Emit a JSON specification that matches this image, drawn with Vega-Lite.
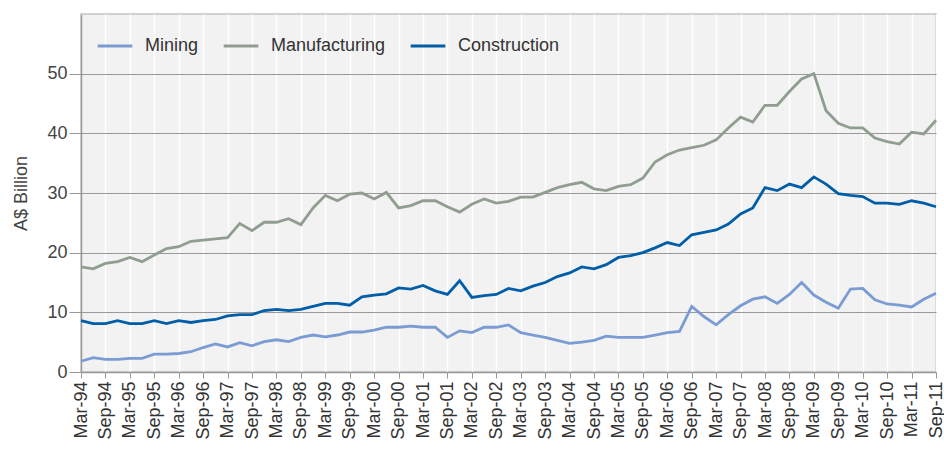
{
  "$schema": "https://vega.github.io/schema/vega-lite/v6.json",
  "width": 855,
  "height": 358,
  "autosize": {"type": "none"},
  "padding": {"left": 81, "top": 14, "right": 8, "bottom": 78},
  "background": "white",
  "config": {
    "font": "Liberation Sans",
    "view": {"fill": "#f2f2f2", "stroke": "#c4c4c4", "strokeWidth": 1.5}
  },
  "data": {"values": [
    {"q":"Mar-94","Mining":1.8,"Manufacturing":17.6,"Construction":8.6},
    {"q":"Jun-94","Mining":2.4,"Manufacturing":17.3,"Construction":8.1},
    {"q":"Sep-94","Mining":2.1,"Manufacturing":18.2,"Construction":8.1},
    {"q":"Dec-94","Mining":2.1,"Manufacturing":18.5,"Construction":8.6},
    {"q":"Mar-95","Mining":2.3,"Manufacturing":19.2,"Construction":8.1},
    {"q":"Jun-95","Mining":2.3,"Manufacturing":18.5,"Construction":8.1},
    {"q":"Sep-95","Mining":3.0,"Manufacturing":19.6,"Construction":8.6},
    {"q":"Dec-95","Mining":3.0,"Manufacturing":20.7,"Construction":8.1},
    {"q":"Mar-96","Mining":3.1,"Manufacturing":21.0,"Construction":8.6},
    {"q":"Jun-96","Mining":3.4,"Manufacturing":21.9,"Construction":8.3},
    {"q":"Sep-96","Mining":4.1,"Manufacturing":22.1,"Construction":8.6},
    {"q":"Dec-96","Mining":4.7,"Manufacturing":22.3,"Construction":8.8},
    {"q":"Mar-97","Mining":4.2,"Manufacturing":22.5,"Construction":9.4},
    {"q":"Jun-97","Mining":4.9,"Manufacturing":24.9,"Construction":9.6},
    {"q":"Sep-97","Mining":4.4,"Manufacturing":23.7,"Construction":9.6},
    {"q":"Dec-97","Mining":5.1,"Manufacturing":25.1,"Construction":10.3},
    {"q":"Mar-98","Mining":5.4,"Manufacturing":25.1,"Construction":10.5},
    {"q":"Jun-98","Mining":5.1,"Manufacturing":25.7,"Construction":10.3},
    {"q":"Sep-98","Mining":5.8,"Manufacturing":24.7,"Construction":10.5},
    {"q":"Dec-98","Mining":6.2,"Manufacturing":27.5,"Construction":11.0},
    {"q":"Mar-99","Mining":5.9,"Manufacturing":29.6,"Construction":11.5},
    {"q":"Jun-99","Mining":6.2,"Manufacturing":28.7,"Construction":11.5},
    {"q":"Sep-99","Mining":6.7,"Manufacturing":29.8,"Construction":11.2},
    {"q":"Dec-99","Mining":6.7,"Manufacturing":30.0,"Construction":12.6},
    {"q":"Mar-00","Mining":7.0,"Manufacturing":29.0,"Construction":12.9},
    {"q":"Jun-00","Mining":7.5,"Manufacturing":30.1,"Construction":13.1},
    {"q":"Sep-00","Mining":7.5,"Manufacturing":27.5,"Construction":14.1},
    {"q":"Dec-00","Mining":7.7,"Manufacturing":27.9,"Construction":13.9},
    {"q":"Mar-01","Mining":7.5,"Manufacturing":28.7,"Construction":14.5},
    {"q":"Jun-01","Mining":7.5,"Manufacturing":28.7,"Construction":13.6},
    {"q":"Sep-01","Mining":5.8,"Manufacturing":27.7,"Construction":13.0},
    {"q":"Dec-01","Mining":6.9,"Manufacturing":26.8,"Construction":15.3},
    {"q":"Mar-02","Mining":6.6,"Manufacturing":28.1,"Construction":12.5},
    {"q":"Jun-02","Mining":7.5,"Manufacturing":29.0,"Construction":12.8},
    {"q":"Sep-02","Mining":7.5,"Manufacturing":28.3,"Construction":13.0},
    {"q":"Dec-02","Mining":7.9,"Manufacturing":28.6,"Construction":14.0},
    {"q":"Mar-03","Mining":6.6,"Manufacturing":29.3,"Construction":13.6},
    {"q":"Jun-03","Mining":6.2,"Manufacturing":29.3,"Construction":14.4},
    {"q":"Sep-03","Mining":5.8,"Manufacturing":30.1,"Construction":15.0},
    {"q":"Dec-03","Mining":5.3,"Manufacturing":30.9,"Construction":16.0},
    {"q":"Mar-04","Mining":4.8,"Manufacturing":31.4,"Construction":16.6},
    {"q":"Jun-04","Mining":5.0,"Manufacturing":31.8,"Construction":17.6},
    {"q":"Sep-04","Mining":5.3,"Manufacturing":30.7,"Construction":17.3},
    {"q":"Dec-04","Mining":6.0,"Manufacturing":30.4,"Construction":18.0},
    {"q":"Mar-05","Mining":5.8,"Manufacturing":31.1,"Construction":19.2},
    {"q":"Jun-05","Mining":5.8,"Manufacturing":31.4,"Construction":19.5},
    {"q":"Sep-05","Mining":5.8,"Manufacturing":32.5,"Construction":20.0},
    {"q":"Dec-05","Mining":6.2,"Manufacturing":35.2,"Construction":20.8},
    {"q":"Mar-06","Mining":6.6,"Manufacturing":36.4,"Construction":21.7},
    {"q":"Jun-06","Mining":6.8,"Manufacturing":37.2,"Construction":21.2},
    {"q":"Sep-06","Mining":11.0,"Manufacturing":37.6,"Construction":23.0},
    {"q":"Dec-06","Mining":9.3,"Manufacturing":38.0,"Construction":23.4},
    {"q":"Mar-07","Mining":7.9,"Manufacturing":38.9,"Construction":23.8},
    {"q":"Jun-07","Mining":9.6,"Manufacturing":40.9,"Construction":24.8},
    {"q":"Sep-07","Mining":11.1,"Manufacturing":42.7,"Construction":26.5},
    {"q":"Dec-07","Mining":12.2,"Manufacturing":41.9,"Construction":27.5},
    {"q":"Mar-08","Mining":12.6,"Manufacturing":44.7,"Construction":30.9},
    {"q":"Jun-08","Mining":11.5,"Manufacturing":44.7,"Construction":30.4},
    {"q":"Sep-08","Mining":13.0,"Manufacturing":47.0,"Construction":31.5},
    {"q":"Dec-08","Mining":15.0,"Manufacturing":49.1,"Construction":30.9},
    {"q":"Mar-09","Mining":12.9,"Manufacturing":50.0,"Construction":32.7},
    {"q":"Jun-09","Mining":11.7,"Manufacturing":43.8,"Construction":31.5},
    {"q":"Sep-09","Mining":10.7,"Manufacturing":41.7,"Construction":29.9},
    {"q":"Dec-09","Mining":13.9,"Manufacturing":40.9,"Construction":29.6},
    {"q":"Mar-10","Mining":14.0,"Manufacturing":40.9,"Construction":29.4},
    {"q":"Jun-10","Mining":12.1,"Manufacturing":39.2,"Construction":28.3},
    {"q":"Sep-10","Mining":11.4,"Manufacturing":38.6,"Construction":28.3},
    {"q":"Dec-10","Mining":11.2,"Manufacturing":38.2,"Construction":28.1},
    {"q":"Mar-11","Mining":10.9,"Manufacturing":40.2,"Construction":28.7},
    {"q":"Jun-11","Mining":12.2,"Manufacturing":39.9,"Construction":28.3},
    {"q":"Sep-11","Mining":13.2,"Manufacturing":42.2,"Construction":27.7}
  ]},
  "transform": [
    {"fold": ["Mining", "Manufacturing", "Construction"], "as": ["series", "value"]}
  ],
  "mark": {"type": "line", "strokeWidth": 2.8, "strokeJoin": "miter"},
  "encoding": {
    "x": {
      "field": "q", "type": "nominal", "sort": null,
      "scale": {"type": "point", "padding": 0},
      "axis": {
        "title": null,
        "values": ["Mar-94","Sep-94","Mar-95","Sep-95","Mar-96","Sep-96","Mar-97","Sep-97","Mar-98","Sep-98","Mar-99","Sep-99","Mar-00","Sep-00","Mar-01","Sep-01","Mar-02","Sep-02","Mar-03","Sep-03","Mar-04","Sep-04","Mar-05","Sep-05","Mar-06","Sep-06","Mar-07","Sep-07","Mar-08","Sep-08","Mar-09","Sep-09","Mar-10","Sep-10","Mar-11","Sep-11"],
        "labelAngle": -90,
        "labelFontSize": 18,
        "labelColor": "#333333",
        "labelPadding": 3,
        "labelOverlap": false,
        "labelBound": false,
        "tickSize": 6,
        "tickColor": "#999999",
        "domainColor": "#999999",
        "domainWidth": 1.5,
        "grid": true,
        "gridColor": "#ffffff",
        "gridWidth": 1.5
      }
    },
    "y": {
      "field": "value", "type": "quantitative",
      "scale": {"domain": [0, 60], "nice": false},
      "axis": {
        "title": "A$ Billion",
        "titleFont": "Liberation Sans",
        "titleFontSize": 18,
        "titleFontWeight": "normal",
        "titleColor": "#444444",
        "titlePadding": 16,
        "values": [0, 10, 20, 30, 40, 50],
        "labelFontSize": 18,
        "labelColor": "#444444",
        "labelPadding": 2,
        "tickSize": 12,
        "tickColor": "#999999",
        "domainColor": "#999999",
        "domainWidth": 1.5,
        "grid": true,
        "gridColor": "#9a9a9a",
        "gridWidth": 1.2
      }
    },
    "color": {
      "field": "series", "type": "nominal",
      "scale": {
        "domain": ["Mining", "Manufacturing", "Construction"],
        "range": ["#7b9bd3", "#909d90", "#005ea8"]
      },
      "legend": {
        "title": null,
        "orient": "none",
        "legendX": 15,
        "legendY": 13,
        "direction": "horizontal",
        "symbolType": "stroke",
        "symbolSize": 1200,
        "symbolStrokeWidth": 2.8,
        "labelFontSize": 18,
        "labelColor": "#333333",
        "labelOffset": 11,
        "columnPadding": 19
      }
    }
  }
}
